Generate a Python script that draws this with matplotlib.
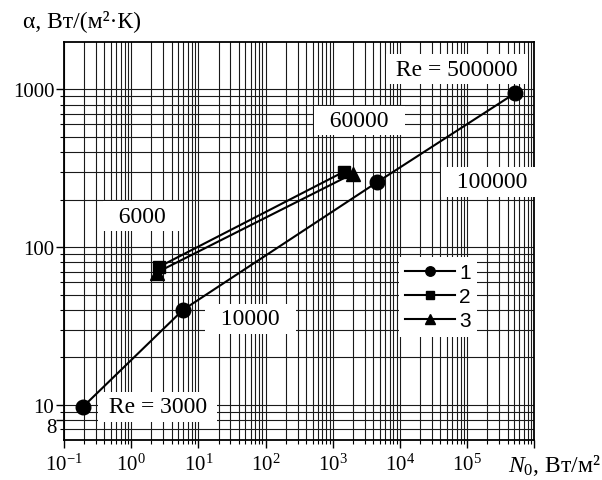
import math
import matplotlib
matplotlib.use("Agg")
import matplotlib.pyplot as plt
from matplotlib.ticker import FixedLocator, FuncFormatter, FixedFormatter, NullFormatter

plt.rcParams["font.family"] = ["Liberation Serif", "DejaVu Serif"]
plt.rcParams["mathtext.fontset"] = "custom"
plt.rcParams["mathtext.rm"] = "Liberation Serif"
plt.rcParams["mathtext.it"] = "Liberation Serif:italic"

# curve 1 (circles), Re = 3000, 10000, 100000, 500000
n0_1 = [0.19, 5.9, 4600, 5.2e5]
alpha_1 = [9.7, 40, 258, 945]
# curve 2 (squares)
n0_2 = [2.6, 1460]
alpha_2 = [75, 300]
# curve 3 (triangles)
n0_3 = [2.4, 2000]
alpha_3 = [69, 292]

series_labels = ["1", "2", "3"]
y_ticks = [8, 10, 100, 1000]
y_ticklabels = ["", "10", "100", "1000"]

fig = plt.figure(figsize=(6.02, 4.81), dpi=100)
ax = fig.add_axes([0.1063, 0.0832, 0.7812, 0.828])
ax.set_xscale("log")
ax.set_yscale("log")
ax.set_xlim(0.1, 1e6)
ax.set_ylim(6, 2000)

# grid / ticks
xmaj = [10.0 ** k for k in range(-1, 7)]
xmin = [m * 10.0 ** k for k in range(-1, 6) for m in range(2, 10)]
ymin = [7, 9] + [m * 10 for m in range(2, 10)] + [m * 100 for m in range(2, 10)]
ax.xaxis.set_major_locator(FixedLocator(xmaj))
ax.xaxis.set_minor_locator(FixedLocator(xmin))
ax.xaxis.set_major_formatter(FuncFormatter(
    lambda v, p: "" if v > 5e5 else r"$10^{%d}$" % round(math.log10(v))))
ax.xaxis.set_minor_formatter(NullFormatter())
ax.yaxis.set_major_locator(FixedLocator(y_ticks))
ax.yaxis.set_major_formatter(FixedFormatter(y_ticklabels))
ax.yaxis.set_minor_locator(FixedLocator(ymin))
ax.yaxis.set_minor_formatter(NullFormatter())
ax.tick_params(which="major", direction="out", length=6, width=1.0, labelsize=15, pad=1)
ax.tick_params(axis="x", which="major", pad=4)
ax.tick_params(which="minor", direction="out", length=3, width=0.8)
ax.grid(which="both", color="#1a1a1a", lw=0.8)
for s in ax.spines.values():
    s.set_linewidth(1.3)

# "8" label sits a bit lower than its line in the original
ax.annotate("8", xy=(0, 8), xycoords=("axes fraction", "data"), xytext=(-5.5, -5),
            textcoords="offset points", ha="right", va="center", fontsize=15)

# curves
l1, = ax.plot(n0_1, alpha_1, "-o", color="black", lw=1.5, ms=10.5, zorder=5, label=series_labels[0])
l2, = ax.plot(n0_2, alpha_2, "-s", color="black", lw=1.5, ms=8.5, zorder=5, label=series_labels[1])
l3, = ax.plot(n0_3, alpha_3, "-^", color="black", lw=1.5, ms=10.5, zorder=5, label=series_labels[2])

# Re labels
box = dict(facecolor="white", edgecolor="none", pad=3)
kw = dict(transform=ax.transAxes, ha="center", va="center", fontsize=17, bbox=box, zorder=4)
ax.text(0.199, 0.083, " Re = 3000 ", **kw)
ax.text(0.167, 0.562, "  6000  ", **kw)
ax.text(0.396, 0.304, "  10000  ", **kw)
ax.text(0.628, 0.802, "  60000  ", **kw)
ax.text(0.910, 0.648, "  100000  ", **kw)
ax.text(0.836, 0.931, " Re = 500000 ", **kw)

leg = ax.legend(handles=[l1, l2, l3], loc="center right", bbox_to_anchor=(0.90, 0.36),
                prop={"family": "Liberation Sans", "size": 15}, numpoints=1,
                markerscale=0.65, handlelength=2.4, handletextpad=0.2, labelspacing=0.25,
                frameon=True, fancybox=False, borderpad=0.3)
leg.get_frame().set_edgecolor("none")
leg.get_frame().set_facecolor("white")
leg.get_frame().set_alpha(1)
leg.set_zorder(6)

fig.text(23 / 602, 1 - 21 / 481, "α, Вт/(м²·К)", fontsize=17, ha="left", va="center")
fig.text(508 / 602, 1 - 466 / 481, "$N_0$, Вт/м²", fontsize=17, ha="left", va="center")

fig.savefig("out.png", dpi=100)
